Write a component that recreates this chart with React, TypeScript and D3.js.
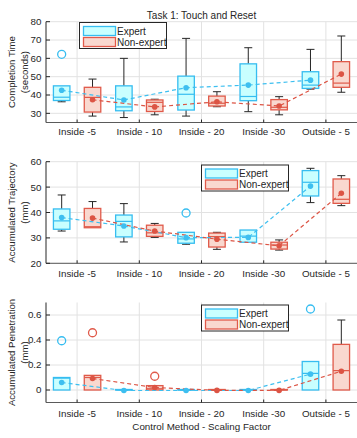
import React from 'react';
import * as d3 from "d3";

// categories and groups
const categories = ["Inside -5", "Inside - 10", "Inside - 20", "Inside -30", "Outside - 5"];
const groups = ["Expert", "Non-expert"];

// each row: [whiskerLow, q1, median, q3, whiskerHigh, mean]
const timeExpert = [
    [36.3, 37, 38.8, 45, 45, 42.6],
    [27.7, 31.4, 33.5, 45, 60, 37.3],
    [28.5, 31.8, 40.4, 50.3, 70.9, 44],
    [30.9, 36.9, 39.2, 57, 65.8, 45.4],
    [43.2, 43.6, 45.4, 52.7, 64.9, 48.1],
];
const timeNonExpert = [
    [28.5, 30.7, 38.7, 44.2, 48.7, 37.4],
    [29.2, 31, 36, 37.3, 37.7, 33.5],
    [33.6, 34, 35.5, 39.4, 41.8, 36.3],
    [29.2, 31.9, 33.3, 37.5, 39.1, 34],
    [41.5, 44.2, 46.5, 58.2, 72.2, 51.4],
];
const timeOutliers = [[0, 0, 62.2]]; // [group, category, value]

const trajExpert = [
    [32.7, 33.4, 36.7, 41.4, 46.9, 38],
    [28.4, 30.4, 36.5, 39, 43.5, 34.7],
    [27.5, 27.9, 29.6, 32.2, 32.2, 30.1],
    [28.2, 28.3, 30.7, 33.1, 33.2, 30.2],
    [43.9, 46.5, 51.9, 56.5, 57.4, 50.4],
];
const trajNonExpert = [
    [34, 34, 34.4, 41.6, 44.3, 37.8],
    [30.2, 30.6, 32, 35, 35.7, 32.7],
    [25.5, 26.4, 30.5, 31.9, 32.2, 29.5],
    [25.2, 25.6, 27.2, 28.3, 29.2, 26.9],
    [42.7, 43.6, 45.2, 53.2, 54.5, 47.6],
];
const trajOutliers = [[0, 2, 39.8]];

const penExpert = [
    [0, 0, 0.095, 0.1, 0.1, 0.06],
    [0, 0, 0, 0.004, 0.004, -0.004],
    [0, 0, 0, 0.004, 0.004, -0.004],
    [0, 0, 0, 0.004, 0.004, -0.004],
    [0, 0, 0.133, 0.228, 0.228, 0.127],
];
const penNonExpert = [
    [0, 0, 0.1, 0.117, 0.117, 0.092],
    [0, 0, 0.01, 0.035, 0.035, 0.02],
    [0, 0, 0, 0.004, 0.004, -0.003],
    [0, 0, 0, 0.004, 0.004, -0.003],
    [0, 0, 0.155, 0.365, 0.56, 0.15],
];
const penOutliers = [[0, 0, 0.394], [1, 0, 0.458], [1, 1, 0.11], [0, 4, 0.648]];

const timeTicks = [30, 40, 50, 60, 70, 80];
const trajTicks = [20, 30, 40, 50, 60];
const penTicks = [0, 0.2, 0.4, 0.6];

const strokeColors = ["#36bdf0", "#e05a4a"];
const fillColors = ["#c9ffff", "#f9d8cf"];
const lineColors = ["#3dbff0", "#dc5444"];
const axisColor = "#262626";
const font = "'Liberation Sans', Arial, sans-serif";

const width = 357, height = 438;
const left = 46, right = 357;

const x = d3.scaleLinear().domain([-0.5, categories.length - 0.5]).range([left, right]);
const offset = d3.scaleBand().domain(groups).range([-31, 31]).paddingInner(0.93).paddingOuter(0.47);

const Panel = ({ top, bottom, domain, ticks, series, outliers, label, legendX, legendY, xLabelY, fmt }) => {
    const y = d3.scaleLinear().domain(domain).range([bottom, top]);
    const bw = 16.5;
    const cx = (g, i) => x(i) + offset(groups[g]) + offset.bandwidth() / 2;
    const line = d3.line().x(d => d[0]).y(d => d[1]);
    const mid = (top + bottom) / 2;

    return (
        <g>
            {/* grid */}
            {ticks.map(t => (
                <line key={"h" + t} x1={left} x2={right} y1={y(t)} y2={y(t)} stroke="#e2e2e2" strokeWidth={1} />
            ))}
            {categories.map((c, i) => (
                <line key={"v" + i} x1={x(i)} x2={x(i)} y1={top} y2={bottom} stroke="#e2e2e2" strokeWidth={1} />
            ))}

            {/* boxes */}
            {series.map((rows, g) => rows.map((d, i) => {
                const c = cx(g, i);
                const [lo, q1, med, q3, hi] = d;
                return (
                    <g key={g + "-" + i}>
                        {y(q3) - y(hi) > 0.5 && <line x1={c} x2={c} y1={y(q3)} y2={y(hi)} stroke={axisColor} />}
                        {y(lo) - y(q1) > 0.5 && <line x1={c} x2={c} y1={y(q1)} y2={y(lo)} stroke={axisColor} />}
                        {y(q3) - y(hi) > 0.5 && <line x1={c - 4} x2={c + 4} y1={y(hi)} y2={y(hi)} stroke={axisColor} />}
                        {y(lo) - y(q1) > 0.5 && <line x1={c - 4} x2={c + 4} y1={y(lo)} y2={y(lo)} stroke={axisColor} />}
                        <rect x={c - bw / 2} y={y(q3)} width={bw} height={Math.max(y(q1) - y(q3), 0.5)}
                            fill={fillColors[g]} stroke={strokeColors[g]} strokeWidth={1.3} />
                        <line x1={c - bw / 2} x2={c + bw / 2} y1={y(med)} y2={y(med)} stroke={strokeColors[g]} strokeWidth={1.2} />
                    </g>
                );
            }))}

            {/* outliers */}
            {outliers.map(([g, i, v], k) => (
                <circle key={"o" + k} cx={cx(g, i)} cy={y(v)} r={4} fill="none" stroke={strokeColors[g]} strokeWidth={1.3} />
            ))}

            {/* mean lines */}
            {series.map((rows, g) => (
                <path key={"l" + g} d={line(rows.map((d, i) => [cx(g, i), y(d[5])]))}
                    fill="none" stroke={lineColors[g]} strokeWidth={1.2} strokeDasharray="4,3" />
            ))}
            {series.map((rows, g) => rows.map((d, i) => (
                <circle key={"m" + g + i} cx={cx(g, i)} cy={y(d[5])} r={2.8} fill={lineColors[g]} />
            )))}

            {/* axes */}
            <line x1={left} x2={left} y1={top} y2={bottom} stroke={axisColor} />
            <line x1={left} x2={right} y1={bottom} y2={bottom} stroke="#5a5a5a" />
            {ticks.map(t => (
                <g key={"t" + t}>
                    <line x1={left} x2={left + 4} y1={y(t)} y2={y(t)} stroke={axisColor} />
                    <text x={left - 4.5} y={y(t)} dy="0.35em" textAnchor="end" fontSize={9.8} fill={axisColor} fontFamily={font}>{fmt(t)}</text>
                </g>
            ))}
            {categories.map((c, i) => (
                <g key={"c" + i}>
                    <line x1={x(i)} x2={x(i)} y1={bottom} y2={bottom - 3} stroke={axisColor} />
                    <text x={x(i)} y={xLabelY} textAnchor="middle" fontSize={9.8} fill={axisColor} fontFamily={font}>{c}</text>
                </g>
            ))}

            {/* y label */}
            <g transform={`translate(12,${mid}) rotate(-90)`}>
                <text textAnchor="middle" dy="0.35em" fontSize={9.6} fill={axisColor} fontFamily={font}>{label[0]}</text>
            </g>
            <g transform={`translate(25,${mid}) rotate(-90)`}>
                <text textAnchor="middle" dy="0.35em" fontSize={9.6} fill={axisColor} fontFamily={font}>{label[1]}</text>
            </g>

            {/* legend */}
            <g transform={`translate(${legendX},${legendY})`}>
                <rect x={0} y={0} width={87} height={26} fill="white" stroke={axisColor} strokeWidth={1} />
                {groups.map((gName, g) => (
                    <g key={gName} transform={`translate(0,${8.5 + g * 11})`}>
                        <rect x={4} y={-4.5} width={32} height={9} fill={fillColors[g]} stroke={strokeColors[g]} strokeWidth={1.3} />
                        <text x={37.5} y={0} dy="0.35em" fontSize={10} fill={axisColor} fontFamily={font}>{gName}</text>
                    </g>
                ))}
            </g>
        </g>
    );
};

const App = () => {
    return (
        <svg width={width} height={height} style={{ position: "absolute", left: 0, top: 0 }}>
            <rect width={width} height={height} fill="white" />
            <text x={(left + right) / 2} y={18.5} textAnchor="middle" fontSize={10} fill={axisColor} fontFamily={font}>Task 1: Touch and Reset</text>
            <Panel top={21.7} bottom={122.5} domain={[25, 80]} ticks={timeTicks}
                series={[timeExpert, timeNonExpert]} outliers={timeOutliers}
                label={["Completion Time", "(seconds)"]} legendX={79.5} legendY={22.5} xLabelY={135}
                fmt={d => d} />
            <Panel top={161.7} bottom={263.3} domain={[20, 60]} ticks={trajTicks}
                series={[trajExpert, trajNonExpert]} outliers={trajOutliers}
                label={["Accumulated Trajectory", "(mm)"]} legendX={201.5} legendY={165} xLabelY={276.8}
                fmt={d => d} />
            <Panel top={302.5} bottom={402.5} domain={[-0.1, 0.7]} ticks={penTicks}
                series={[penExpert, penNonExpert]} outliers={penOutliers}
                label={["Accumulated Penetration", "(mm)"]} legendX={201.5} legendY={305} xLabelY={416.8}
                fmt={d => (d === 0 ? "0" : d3.format(".1f")(d))} />
            <text x={(left + right) / 2} y={429.5} textAnchor="middle" fontSize={9.8} fill={axisColor} fontFamily={font}>Control Method - Scaling Factor</text>
        </svg>
    );
};

export default App;
